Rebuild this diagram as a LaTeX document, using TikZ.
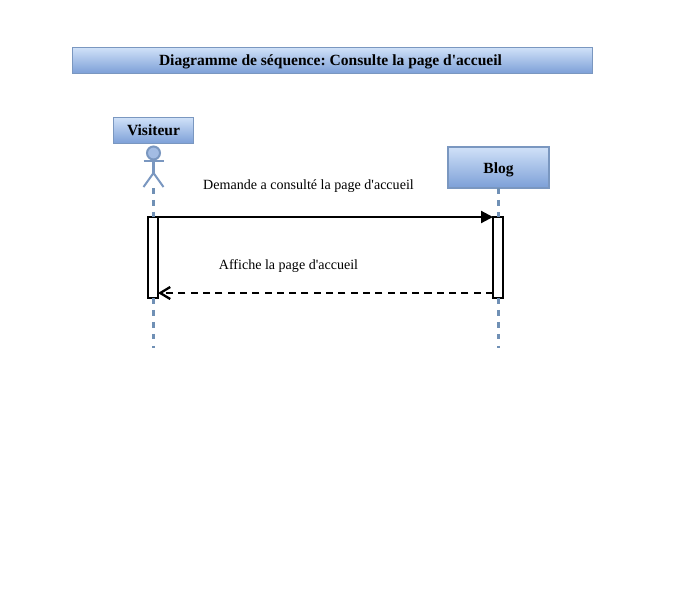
\documentclass[tikz,border=0pt]{standalone}
\usepackage{fontspec}
\setmainfont[Ligatures=TeXOff]{Liberation Serif}
\usetikzlibrary{arrows.meta}
\usetikzlibrary{positioning}

\begin{document}
\begin{tikzpicture}[
    boite/.style={draw=bordbleu, line width=0.5pt, top color=hautbleu, bottom color=basbleu, text=black, inner sep=0pt, outer sep=0pt},
    titrage/.style={font=\bfseries\fontsize{8.85}{10}\selectfont, text=black, inner sep=0pt},
    vie/.style={draw=vieble, line width=1.2pt, dash pattern=on 3.2pt off 3.6pt},
    activation/.style={draw=black, line width=1.13pt, fill=white, minimum width=0.2cm, minimum height=1.62cm, inner sep=0pt, outer sep=0pt},
    message/.style={font=\fontsize{8}{10}\selectfont, text=black, inner sep=0pt},
    acteur/.style={draw=bordbleu, line width=1.15pt}
  ]
    \definecolor{bordbleu}{HTML}{7A97C0}
    \definecolor{hautbleu}{HTML}{D0E1F8}
    \definecolor{basbleu}{HTML}{7C9FD7}
    \definecolor{vieble}{HTML}{7090B5}
    \useasboundingbox (0,0) rectangle (14,-12);
    \frenchspacing

    % titre
    \node [boite, minimum width=10.4cm, minimum height=0.52cm] (titre) at (6.65,-1.21) {};
    \node [titrage] (titretexte) at (6.61,-1.24) {Diagramme de séquence: Consulte la page d'accueil};

    % acteur
    \node [boite, minimum width=1.6cm, minimum height=0.52cm] (visiteur) at (3.07,-2.61) {};
    \node [titrage] (visiteurtexte) at (3.07,-2.61) {Visiteur};
    \coordinate (bassin) at (3.07,-3.46);
    \coordinate (pied) at (3.07,-3.76);
    \coordinate (brasg) at (2.87,-3.215);
    \coordinate (brasd) at (3.27,-3.215);
    \coordinate (piedg) at (2.87,-3.74);
    \coordinate (piedd) at (3.27,-3.74);
    \node [acteur, fill=basbleu!70!white, circle, minimum size=0.26cm, inner sep=0pt] (tete) at (3.07,-3.06) {};
    \draw [acteur] (tete.south) -- (bassin);
    \draw [acteur] (brasg) -- (brasd);
    \draw [acteur] (piedg) -- (bassin) -- (piedd);

    % blog
    \node [boite, minimum width=2.02cm, minimum height=0.82cm, line width=1.13pt] (blog) at (9.97,-3.35) {};
    \node [titrage] (blogtexte) at (9.97,-3.39) {Blog};

    % activations
    \node [activation] (actvisiteur) at (3.06,-5.15) {};
    \node [activation] (actblog) at (9.96,-5.15) {};
    \coordinate (finvisiteur) at (3.07,-6.96);
    \coordinate (finblog) at (9.97,-6.96);
    \coordinate (retourblog) at (9.86,-5.86);
    \coordinate (retourvisiteur) at (3.16,-5.86);

    % lignes de vie
    \draw [vie] (pied) -- (pied |- actvisiteur.north);
    \draw [vie] (finvisiteur |- actvisiteur.south) -- (finvisiteur);
    \draw [vie] (blog.south) -- (blog.south |- actblog.north);
    \draw [vie] (finblog |- actblog.south) -- (finblog);

    % messages
    \draw [line width=1.2pt, -{Triangle[length=0.24cm, width=0.24cm]}] (actvisiteur.north east) -- (actblog.north west);
    \draw [line width=1.3pt, dash pattern=on 4pt off 3pt, -{Straight Barb[length=0.2cm, width=0.24cm]}] (retourblog) -- (retourvisiteur);
    \node [message] (demande) at (6.17,-3.72) {Demande a consulté la page d'accueil};
    \node [message] (affiche) at (5.77,-5.32) {Affiche la page d'accueil};
\end{tikzpicture}
\end{document}
